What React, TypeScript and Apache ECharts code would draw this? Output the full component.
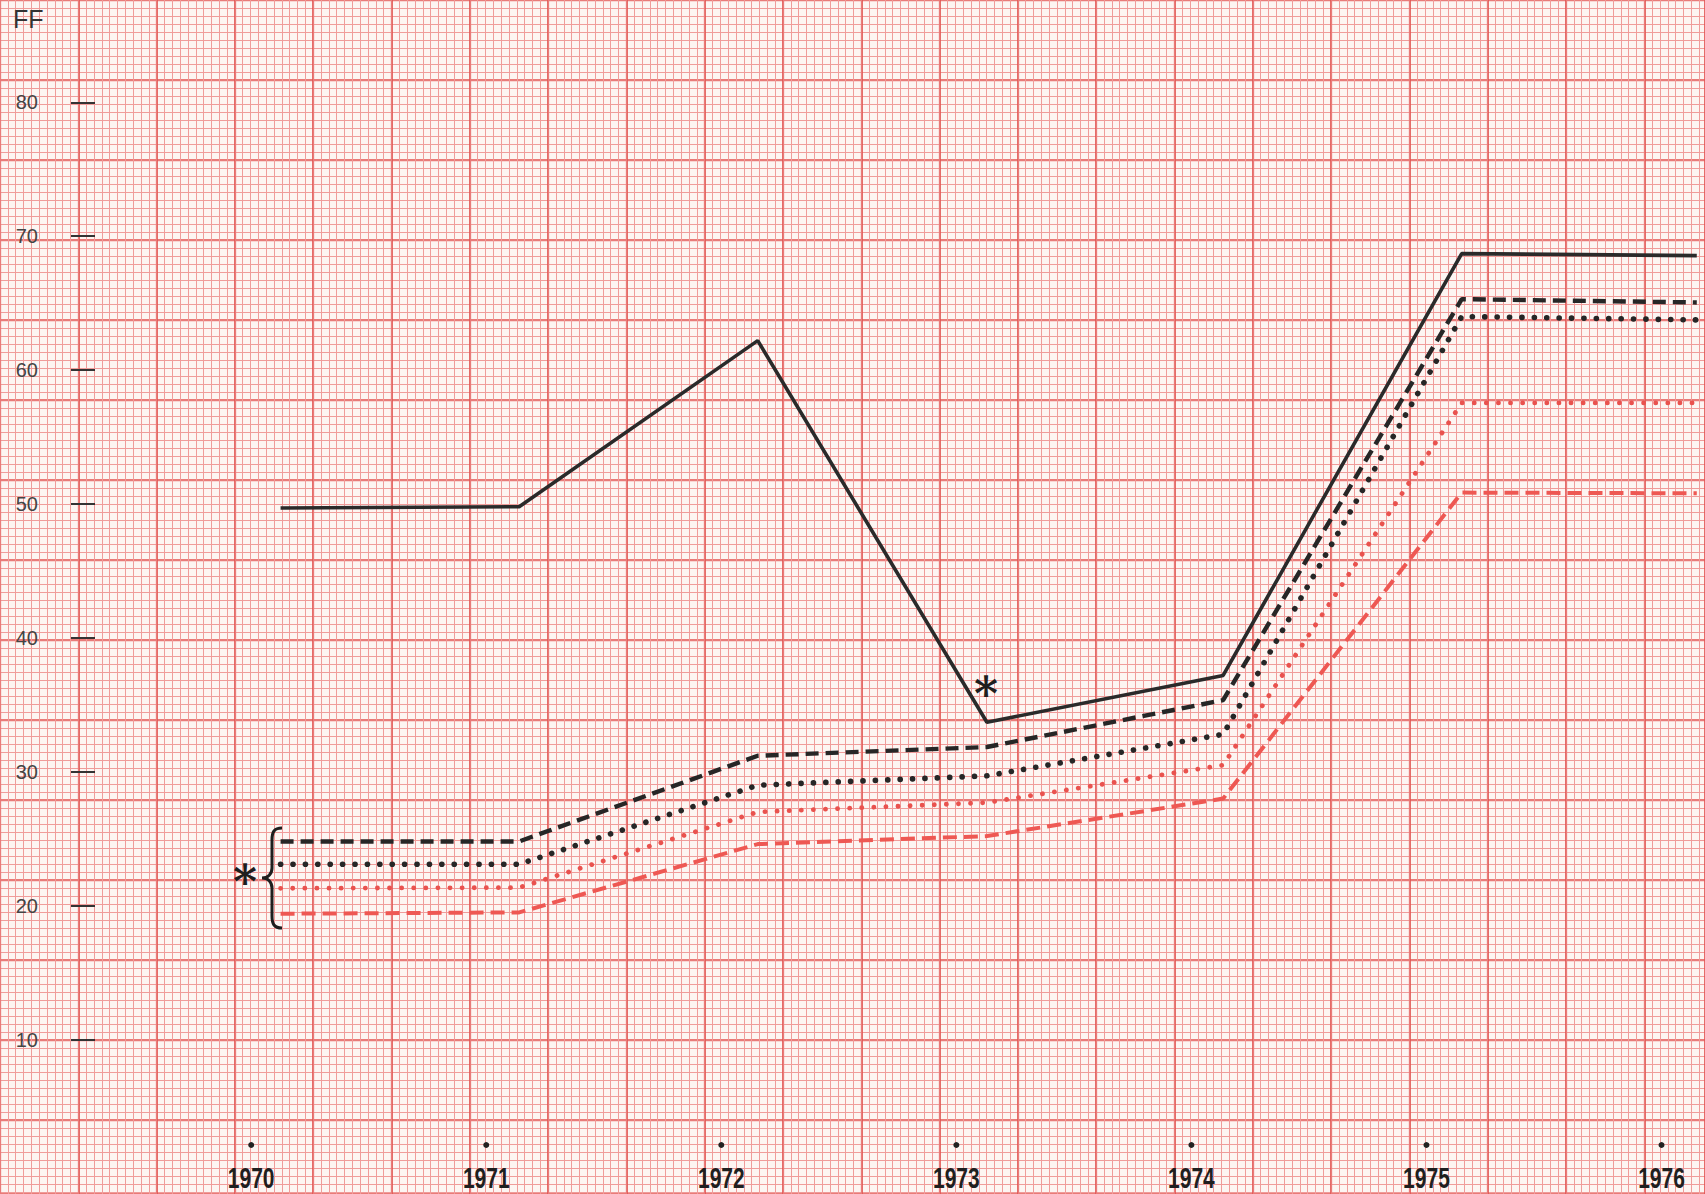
import React, { useEffect, useRef } from "react";
import * as echarts from "echarts";

// ---- data ----
const years = [1970, 1971, 1972, 1973, 1974, 1975, 1976];
const pointYears = [1970.125, 1971.14, 1972.155, 1973.13, 1974.135, 1975.15, 1976.15];
const solidBlack = [49.7, 49.8, 62.2, 33.7, 37.2, 68.7, 68.55];
const dashedBlack = [24.8, 24.8, 31.2, 31.85, 35.35, 65.3, 65.05];
const dottedBlack = [23.1, 23.1, 29.0, 29.7, 32.8, 64.0, 63.75];
const dottedRed = [21.3, 21.35, 27.0, 27.7, 30.5, 57.55, 57.55];
const dashedRed = [19.4, 19.5, 24.6, 25.2, 28.0, 50.85, 50.8];
const yTicks = [10, 20, 30, 40, 50, 60, 70, 80];
const yearDotLevel = 2.13;

// brace shape
const braceD =
  "M20 0 C12 0 10 4 10 12 L10 40 C10 46 6 50 0 50 C6 50 10 54 10 60 L10 88 C10 96 12 100 20 100";
echarts.graphic.registerShape("brace", echarts.graphic.extendPath(braceD, {}) as any);

const W = 1705;
const H = 1194;
const GRID_LEFT = 95;
const X_MIN = 1969.3355;
const X_MAX = 1976.185;

const MINOR = "#f09c9a";
const MEDIUM = "#e97b79";
const MAJOR = "#e0524f";

const paperAxisCommon = {
  gridIndex: 1,
  type: "value",
  axisLine: { show: false },
  axisTick: { show: false },
  axisLabel: { show: false },
};

function zip(vals: number[]) {
  return vals.map((v, i) => [pointYears[i], v]);
}

const starStyle = {
  text: "*",
  font: "bold 46px 'DejaVu Serif', serif",
  fontSize: 46,
  fontWeight: "bold",
  fill: "#1e1e1e",
  fontFamily: "'DejaVu Serif', serif",
  align: "center",
  verticalAlign: "middle",
  textAlign: "center",
  textVerticalAlign: "middle",
};

export default function App() {
  const ref = useRef<HTMLDivElement>(null);
  useEffect(() => {
    const chart = echarts.init(ref.current!, null, { renderer: "svg" });
    const option: any = {
      animation: false,
      backgroundColor: "#fdf5f2",
      grid: [
        { left: GRID_LEFT, right: 0, top: 0, bottom: 20.5 },
        { left: 0, right: 0, top: 0, bottom: 0 },
      ],
      xAxis: [
        { gridIndex: 0, type: "value", min: X_MIN, max: X_MAX, show: false },
        {
          ...paperAxisCommon,
          min: -25.3,
          max: -25.3 + W,
          interval: 78.3,
          splitLine: { show: true, lineStyle: { color: MAJOR, width: 1.7 } },
          minorTick: { show: false, splitNumber: 10 },
          minorSplitLine: { show: true, lineStyle: { color: MINOR, width: 1 } },
        },
        {
          ...paperAxisCommon,
          min: 13.85,
          max: 13.85 + W,
          interval: 78.3,
          splitLine: { show: true, lineStyle: { color: MEDIUM, width: 1.3 } },
        },
      ],
      yAxis: [
        {
          gridIndex: 0,
          type: "value",
          min: 0,
          max: 87.64,
          z: 10,
          axisLine: { show: false },
          splitLine: { show: false },
          axisTick: {
            show: true,
            length: 24,
            customValues: yTicks,
            lineStyle: { color: "#333", width: 2 },
          },
          axisLabel: {
            show: true,
            customValues: yTicks,
            margin: 57,
            fontSize: 20,
            color: "#444",
            fontFamily: "'Liberation Sans', Arial, sans-serif",
            padding: [0, 0, 11, 0],
          },
        },
        {
          ...paperAxisCommon,
          inverse: true,
          min: -27,
          max: -27 + H,
          interval: 80,
          splitLine: { show: true, lineStyle: { color: MAJOR, width: 1.7 } },
          minorTick: { show: false, splitNumber: 10 },
          minorSplitLine: { show: true, lineStyle: { color: MINOR, width: 1 } },
        },
        {
          ...paperAxisCommon,
          inverse: true,
          min: 13,
          max: 13 + H,
          interval: 80,
          splitLine: { show: true, lineStyle: { color: MEDIUM, width: 1.3 } },
        },
      ],
      series: [
        {
          type: "line",
          xAxisIndex: 0,
          yAxisIndex: 0,
          data: zip(dashedRed),
          symbol: "none",
          lineStyle: { color: "#ee5853", width: 4, type: [14, 7], cap: "butt" },
        },
        {
          type: "line",
          xAxisIndex: 0,
          yAxisIndex: 0,
          data: zip(dottedRed),
          symbol: "none",
          lineStyle: { color: "#e9524e", width: 4.8, type: [0.1, 12], cap: "round" },
        },
        {
          type: "line",
          xAxisIndex: 0,
          yAxisIndex: 0,
          data: zip(dottedBlack),
          symbol: "none",
          lineStyle: { color: "#262626", width: 5.6, type: [0.1, 12.3], cap: "round" },
        },
        {
          type: "line",
          xAxisIndex: 0,
          yAxisIndex: 0,
          data: zip(dashedBlack),
          symbol: "none",
          lineStyle: { color: "#262626", width: 4.4, type: [13, 7], cap: "butt" },
        },
        {
          type: "line",
          xAxisIndex: 0,
          yAxisIndex: 0,
          data: zip(solidBlack),
          symbol: "none",
          lineStyle: { color: "#2a2a2a", width: 3.6 },
        },
        {
          type: "custom",
          xAxisIndex: 0,
          yAxisIndex: 0,
          data: years.map((y) => [y, yearDotLevel]),
          renderItem: (params: any, api: any) => {
            const yr = api.value(0);
            const pt = api.coord([yr, api.value(1)]);
            return {
              type: "group",
              children: [
                {
                  type: "circle",
                  shape: { cx: pt[0], cy: pt[1], r: 3 },
                  style: { fill: "#222" },
                },
                {
                  type: "text",
                  x: pt[0],
                  y: pt[1] + 33,
                  scaleX: 0.7,
                  style: {
                    text: String(yr),
                    fontSize: 30,
                    fontWeight: "bold",
                    fontFamily: "'Liberation Sans', Arial, sans-serif",
                    fill: "#1f1f1f",
                    align: "center",
                    verticalAlign: "middle",
                    textAlign: "center",
                    textVerticalAlign: "middle",
                  },
                },
              ],
            };
          },
        },
      ],
      graphic: [
        {
          type: "text",
          x: 13,
          y: 19,
          z: 100,
          style: {
            text: "FF",
            font: "25px 'Liberation Sans', Arial, sans-serif",
            fontSize: 25,
            fill: "#333",
            fontFamily: "'Liberation Sans', Arial, sans-serif",
            verticalAlign: "middle",
            textVerticalAlign: "middle",
          },
        },
        { type: "text", x: 986, y: 694, z: 100, style: starStyle },
        { type: "text", x: 245, y: 882, z: 100, style: starStyle },
        {
          type: "brace",
          x: 262,
          y: 828,
          z: 100,
          style: { stroke: "#1e1e1e", fill: "none", lineWidth: 3 },
        },
      ],
    };
    chart.setOption(option);
    return () => chart.dispose();
  }, []);
  return (
    <div
      ref={ref}
      style={{ position: "fixed", left: 0, top: 0, width: W, height: H }}
    />
  );
}
